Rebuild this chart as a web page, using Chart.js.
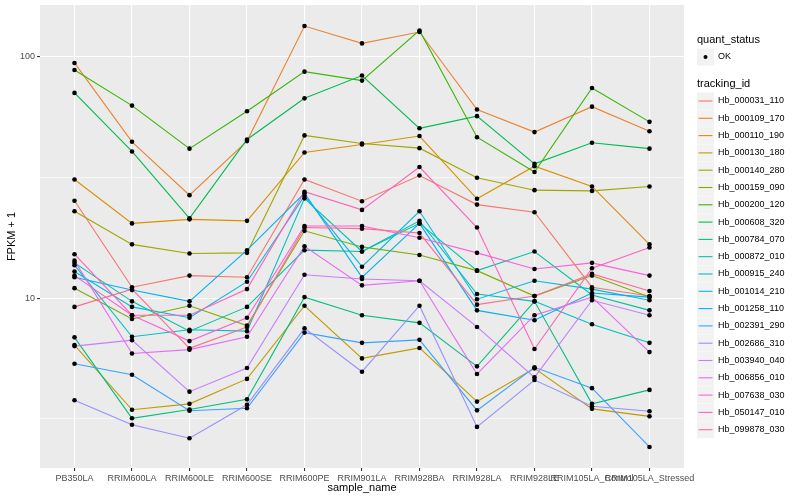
<!DOCTYPE html>
<html>
<head>
<meta charset="utf-8">
<script src="https://cdn.jsdelivr.net/npm/chart.js@4.4.1/dist/chart.umd.min.js"></script>
<style>
  body { margin: 0; background: #fff; }
  canvas { display: block; }
</style>
</head>
<body>
<canvas id="fpkmChart" width="800" height="500"></canvas>
<script>
// Samples along the x axis
const sampleNames = ['PB350LA', 'RRIM600LA', 'RRIM600LE', 'RRIM600SE', 'RRIM600PE', 'RRIM901LA',
  'RRIM928BA', 'RRIM928LA', 'RRIM928LE', 'RRIM105LA_Control', 'RRIM105LA_Stressed'];

// Genes (legend order) and their ggplot hue colours
const trackingIds = ['Hb_000031_110', 'Hb_000109_170', 'Hb_000110_190', 'Hb_000130_180', 'Hb_000140_280',
  'Hb_000159_090', 'Hb_000200_120', 'Hb_000608_320', 'Hb_000784_070', 'Hb_000872_010', 'Hb_000915_240',
  'Hb_001014_210', 'Hb_001258_110', 'Hb_002391_290', 'Hb_002686_310', 'Hb_003940_040', 'Hb_006856_010',
  'Hb_007638_030', 'Hb_050147_010', 'Hb_099878_030'];
const lineColors = ['#F8766D', '#EA8331', '#D89000', '#C09B00', '#A3A500', '#7CAE00', '#39B600', '#00BB4E',
  '#00BF7D', '#00C1A3', '#00BFC4', '#00BAE0', '#00B0F6', '#35A2FF', '#9590FF', '#C77CFF', '#E76BF3',
  '#FA62DB', '#FF62BC', '#FF6C91'];

// FPKM + 1 per gene, one value per sample
const hb000031_110 = [25.3, 11.1, 12.4, 12.2, 31.0, 25.2, 32.2, 24.4, 22.7, 11.1, 10.2];
const hb000109_170 = [94.2, 44.4, 26.7, 44.7, 133.9, 113.5, 126.5, 60.4, 48.7, 62.1, 49.1];
const hb000110_190 = [31.0, 20.4, 21.2, 20.9, 40.1, 43.3, 46.9, 25.8, 35.2, 29.0, 16.7];
const hb000130_180 = [6.39, 3.45, 3.65, 4.63, 9.3, 5.63, 6.22, 3.73, 5.12, 3.48, 3.24];
const hb000140_280 = [22.9, 16.7, 15.3, 15.4, 47.2, 43.7, 41.8, 31.5, 28.0, 27.8, 29.0];
const hb000159_090 = [11.0, 8.2, 9.3, 7.7, 19.0, 16.3, 15.1, 13.0, 10.2, 12.4, 10.1];
const hb000200_120 = [88.1, 62.7, 41.6, 59.4, 86.7, 79.6, 128.4, 46.4, 33.3, 74.2, 53.7];
const hb000608_320 = [70.8, 40.5, 21.4, 45.4, 67.2, 83.5, 50.5, 56.7, 36.0, 44.0, 41.6];
const hb000784_070 = [6.88, 3.18, 3.46, 3.81, 10.1, 8.5, 7.9, 5.22, 9.7, 3.65, 4.17];
const hb000872_010 = [14.0, 9.7, 7.3, 9.2, 15.8, 15.6, 20.4, 13.0, 15.6, 10.3, 8.9];
const hb000915_240 = [13.7, 6.92, 7.4, 7.3, 25.9, 15.6, 20.9, 10.4, 9.7, 7.8, 6.53];
const hb001014_210 = [12.9, 9.2, 8.3, 11.7, 26.5, 13.5, 22.9, 9.9, 11.8, 10.9, 9.8];
const hb001258_110 = [12.2, 10.8, 9.7, 15.8, 27.2, 12.2, 20.4, 8.9, 8.1, 10.5, 10.1];
const hb002391_290 = [5.35, 4.82, 3.42, 3.50, 7.2, 6.53, 6.72, 3.43, 5.17, 4.24, 2.42];
const hb002686_310 = [3.78, 2.99, 2.63, 3.62, 7.5, 4.96, 9.3, 2.93, 4.58, 3.57, 3.40];
const hb003940_040 = [6.33, 6.7, 4.10, 5.14, 12.5, 12.0, 11.8, 7.6, 4.70, 9.8, 8.5];
const hb006856_010 = [14.3, 5.9, 6.12, 6.92, 16.4, 11.3, 11.8, 4.85, 8.5, 10.1, 5.98];
const hb007638_030 = [12.4, 8.5, 6.64, 8.3, 19.9, 19.9, 17.8, 15.4, 13.2, 14.0, 12.4];
const hb050147_010 = [15.2, 8.5, 8.5, 10.9, 27.6, 23.2, 34.9, 19.6, 6.16, 13.3, 16.2];
const hb099878_030 = [9.2, 10.9, 6.2, 7.6, 19.6, 19.4, 18.6, 9.4, 10.2, 12.6, 10.7];

const fpkmSeries = [hb000031_110, hb000109_170, hb000110_190, hb000130_180, hb000140_280, hb000159_090,
  hb000200_120, hb000608_320, hb000784_070, hb000872_010, hb000915_240, hb001014_210, hb001258_110,
  hb002391_290, hb002686_310, hb003940_040, hb006856_010, hb007638_030, hb050147_010, hb099878_030];

// y axis breaks (log10), minor breaks halfway between them
const yMajorTicks = [10, 100];
const yMinorTicks = [3.1623, 31.623];

const FONT = '"Liberation Sans", Arial, Helvetica, sans-serif';

// ggplot-like expansion of the log range
const allValues = fpkmSeries.flat();
const logMin = Math.log10(Math.min(...allValues));
const logMax = Math.log10(Math.max(...allValues));
const logPad = (logMax - logMin) * 0.05;

function toPoints(values) {
  return values.map((v, i) => ({ x: i, y: v }));
}

const lineDatasets = fpkmSeries.map((values, i) => ({
  label: trackingIds[i],
  data: toPoints(values),
  borderColor: lineColors[i],
  borderWidth: 1.1,
  pointRadius: 0,
  fill: false,
  tension: 0,
  order: fpkmSeries.length - i
}));

// all points drawn on top in black (quant_status = OK)
const pointDataset = {
  label: 'OK',
  data: fpkmSeries.flatMap(toPoints),
  showLine: false,
  pointRadius: 2.3,
  pointBackgroundColor: '#000',
  pointBorderWidth: 0,
  order: 0
};

const panelBackground = {
  id: 'panelBackground',
  beforeDraw(chart) {
    const { ctx, chartArea } = chart;
    ctx.save();
    ctx.fillStyle = '#EBEBEB';
    ctx.fillRect(chartArea.left, chartArea.top, chartArea.right - chartArea.left, chartArea.bottom - chartArea.top);
    ctx.restore();
  }
};

// legend drawn by hand: ggplot style, two guides
const ggLegend = {
  id: 'ggLegend',
  afterDraw(chart) {
    const ctx = chart.ctx;
    const x0 = chart.chartArea.right + 13;
    ctx.save();
    ctx.textBaseline = 'middle';
    ctx.fillStyle = '#000';
    ctx.font = '11px ' + FONT;
    ctx.fillText('quant_status', x0, 40);

    ctx.fillStyle = '#F2F2F2';
    ctx.fillRect(x0, 48.5, 17, 17);
    ctx.fillStyle = '#000';
    ctx.beginPath();
    ctx.arc(x0 + 8.5, 57, 2, 0, Math.PI * 2);
    ctx.fill();
    ctx.font = '9px ' + FONT;
    ctx.fillText('OK', x0 + 21, 57);

    ctx.font = '11px ' + FONT;
    ctx.fillText('tracking_id', x0, 84);

    ctx.font = '9px ' + FONT;
    trackingIds.forEach((id, i) => {
      const y = 101 + i * 17.3;
      ctx.fillStyle = '#F2F2F2';
      ctx.fillRect(x0, y - 8.5, 17, 17);
      ctx.strokeStyle = lineColors[i];
      ctx.lineWidth = 1.1;
      ctx.beginPath();
      ctx.moveTo(x0 + 1.5, y);
      ctx.lineTo(x0 + 15.5, y);
      ctx.stroke();
      ctx.fillStyle = '#000';
      ctx.fillText(id, x0 + 21, y);
    });
    ctx.restore();
  }
};

function createFpkmChart() {
  const ctx = document.getElementById('fpkmChart').getContext('2d');
  new Chart(ctx, {
    type: 'line',
    data: { datasets: [...lineDatasets, pointDataset] },
    options: {
      responsive: false,
      animation: false,
      devicePixelRatio: 1,
      layout: { padding: { top: 5, right: 116, bottom: 0, left: 0 } },
      plugins: {
        legend: { display: false },
        tooltip: { enabled: false }
      },
      scales: {
        x: {
          type: 'linear',
          min: -0.6,
          max: sampleNames.length - 1 + 0.6,
          afterBuildTicks(scale) {
            scale.ticks = sampleNames.map((_, i) => ({ value: i }));
          },
          afterFit(scale) {
            scale.height = 32;
            scale.paddingLeft = 0;
            scale.paddingRight = 0;
          },
          border: { display: false },
          grid: {
            color: '#FFFFFF',
            lineWidth: 1.1,
            drawTicks: true,
            tickLength: 3,
            tickColor: '#333333'
          },
          ticks: {
            autoSkip: false,
            maxRotation: 0,
            minRotation: 0,
            padding: 2,
            color: '#4D4D4D',
            font: { family: FONT, size: 9 },
            callback: (value) => sampleNames[value]
          },
          title: {
            display: true,
            text: 'sample_name',
            color: '#000',
            font: { family: FONT, size: 11 },
            padding: { top: 0, bottom: 5 }
          }
        },
        y: {
          type: 'logarithmic',
          min: Math.pow(10, logMin - logPad),
          max: Math.pow(10, logMax + logPad),
          afterBuildTicks(scale) {
            scale.ticks = [...yMinorTicks, ...yMajorTicks].sort((a, b) => a - b).map(v => ({ value: v }));
          },
          afterFit(scale) {
            scale.width = 40;
            scale.paddingTop = 0;
            scale.paddingBottom = 0;
          },
          border: { display: false },
          grid: {
            color: '#FFFFFF',
            lineWidth: (c) => yMajorTicks.includes(c.tick.value) ? 1.1 : 0.55,
            drawTicks: true,
            tickLength: 3,
            tickColor: (c) => yMajorTicks.includes(c.tick.value) ? '#333333' : 'rgba(0,0,0,0)'
          },
          ticks: {
            padding: 2,
            color: '#4D4D4D',
            font: { family: FONT, size: 9 },
            callback: (value) => yMajorTicks.includes(value) ? String(value) : ''
          },
          title: {
            display: true,
            text: 'FPKM + 1',
            color: '#000',
            font: { family: FONT, size: 11 },
            padding: { top: 5, bottom: 0 }
          }
        }
      }
    },
    plugins: [panelBackground, ggLegend]
  });
}

document.addEventListener('DOMContentLoaded', createFpkmChart);
</script>
</body>
</html>
